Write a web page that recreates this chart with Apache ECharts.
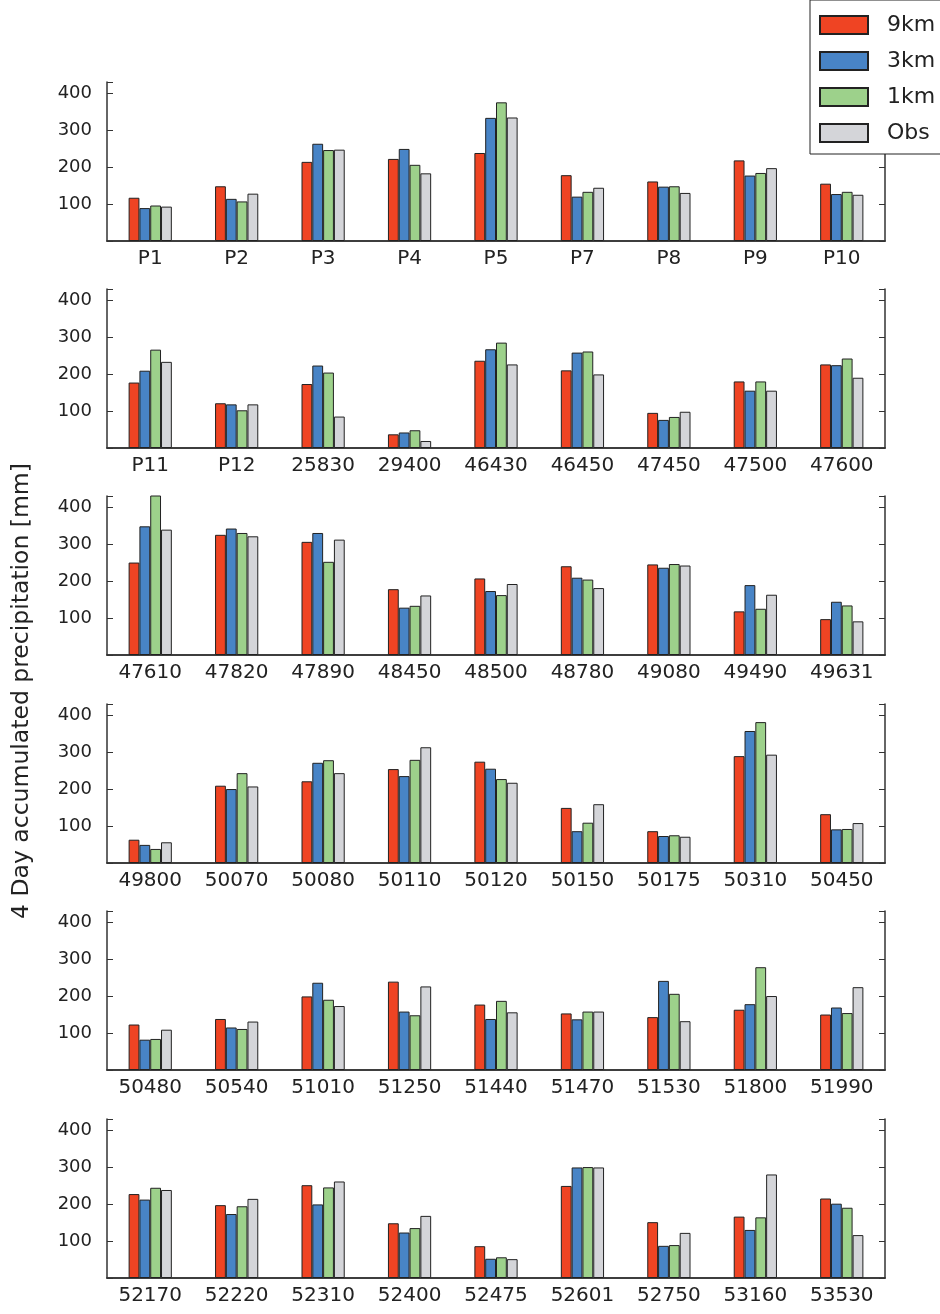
<!DOCTYPE html>
<html>
<head>
<meta charset="utf-8">
<script src="https://cdn.jsdelivr.net/npm/echarts@6/dist/echarts.min.js"></script>
<style>
  html, body { margin: 0; padding: 0; background: #fff; }
  #chart { width: 940px; height: 1314px; }
</style>
</head>
<body>
<div id="chart"></div>
<script>
// stations, 9 per panel
var stations = [
  'P1', 'P2', 'P3', 'P4', 'P5', 'P7', 'P8', 'P9', 'P10',
  'P11', 'P12', '25830', '29400', '46430', '46450', '47450', '47500', '47600',
  '47610', '47820', '47890', '48450', '48500', '48780', '49080', '49490', '49631',
  '49800', '50070', '50080', '50110', '50120', '50150', '50175', '50310', '50450',
  '50480', '50540', '51010', '51250', '51440', '51470', '51530', '51800', '51990',
  '52170', '52220', '52310', '52400', '52475', '52601', '52750', '53160', '53530'
];

var km9 = [
  117, 148, 214, 222, 238, 178, 161, 218, 155,
  177, 121, 173, 37, 236, 210, 95, 180, 226,
  250, 325, 306, 178, 207, 240, 245, 118, 97,
  63, 209, 221, 254, 274, 149, 86, 289, 132,
  123, 138, 199, 239, 177, 153, 143, 163, 150,
  227, 197, 251, 148, 86, 249, 151, 166, 215
];
var km3 = [
  89, 114, 263, 249, 333, 120, 147, 177, 127,
  209, 118, 223, 42, 267, 258, 76, 155, 224,
  348, 342, 330, 128, 173, 209, 236, 189, 144,
  49, 200, 271, 235, 255, 86, 73, 357, 91,
  82, 115, 236, 158, 138, 137, 241, 178, 169,
  212, 173, 199, 123, 52, 299, 87, 130, 201
];
var km1 = [
  96, 107, 246, 206, 375, 133, 148, 184, 133,
  266, 102, 204, 48, 285, 261, 84, 180, 242,
  445, 330, 252, 133, 162, 204, 246, 125, 134,
  38, 243, 278, 279, 227, 109, 75, 381, 92,
  84, 111, 190, 148, 187, 158, 206, 278, 154,
  244, 194, 245, 135, 56, 300, 89, 164, 190
];
var obs = [
  93, 128, 247, 183, 334, 144, 130, 197, 125,
  233, 118, 85, 19, 226, 199, 98, 155, 190,
  339, 321, 312, 161, 192, 181, 242, 163, 91,
  56, 207, 243, 313, 217, 159, 71, 293, 108,
  109, 131, 173, 226, 156, 158, 132, 200, 224,
  238, 214, 261, 168, 51, 299, 122, 280, 116
];

var seriesNames = ['9km', '3km', '1km', 'Obs'];
var seriesData = [km9, km3, km1, obs];
var colors = ['#ef4423', '#4884c6', '#9dd18b', '#d4d5d9'];

var panelTops = [82, 289, 496, 704, 911, 1119];
var panelHeight = 159;
var perPanel = 9;

var font = 'DejaVu Sans';
var axisColor = '#333';

var grids = [], xAxes = [], yAxes = [], series = [];

panelTops.forEach(function (top, p) {
  var cats = stations.slice(p * perPanel, (p + 1) * perPanel);
  grids.push({ left: 107, right: 55, top: top, height: panelHeight });

  // bottom axis with labels
  xAxes.push({
    type: 'category', gridIndex: p, position: 'bottom', data: cats,
    axisLine: { lineStyle: { color: axisColor, width: 1.5 } },
    axisTick: { inside: true, alignWithLabel: true, length: 6, lineStyle: { color: axisColor } },
    axisLabel: { color: '#222', fontSize: 20, fontFamily: font, margin: 8 }
  });
  // top mirror axis
  xAxes.push({
    type: 'category', gridIndex: p, position: 'top', data: cats,
    axisLine: { lineStyle: { color: axisColor, width: 1.5 } },
    axisTick: { inside: true, alignWithLabel: true, length: 6, lineStyle: { color: axisColor } },
    axisLabel: { show: false }
  });
  yAxes.push({
    type: 'value', gridIndex: p, position: 'left', min: 0, max: 430, interval: 100,
    splitLine: { show: false },
    axisLine: { show: true, lineStyle: { color: axisColor, width: 1.5 } },
    axisTick: { show: true, inside: true, length: 6, lineStyle: { color: axisColor } },
    axisLabel: {
      color: '#222', fontSize: 18, fontFamily: font, margin: 15,
      formatter: function (v) { return (v > 0 && v % 100 === 0) ? v : ''; }
    }
  });
  yAxes.push({
    type: 'value', gridIndex: p, position: 'right', min: 0, max: 430, interval: 100,
    splitLine: { show: false },
    axisLine: { show: true, lineStyle: { color: axisColor, width: 1.5 } },
    axisTick: { show: true, inside: true, length: 6, lineStyle: { color: axisColor } },
    axisLabel: { show: false }
  });

  seriesNames.forEach(function (name, s) {
    series.push({
      name: name,
      type: 'bar',
      xAxisIndex: p * 2,
      yAxisIndex: p * 2,
      barGap: '0%',
      barCategoryGap: '50%',
      clip: true,
      itemStyle: { color: colors[s], borderColor: '#222', borderWidth: 1 },
      data: seriesData[s].slice(p * perPanel, (p + 1) * perPanel)
    });
  });
});

var chart = echarts.init(document.getElementById('chart'));

var option = {
  animation: false,
  color: colors,
  grid: grids,
  xAxis: xAxes,
  yAxis: yAxes,
  legend: {
    data: seriesNames,
    icon: 'rect',
    orient: 'vertical',
    left: 810,
    top: 0,
    itemWidth: 48,
    itemHeight: 18,
    itemGap: 14,
    padding: [14, 40, 10, 9],
    backgroundColor: '#fff',
    borderColor: '#222',
    borderWidth: 1,
    z: 10,
    textStyle: { fontSize: 22, fontFamily: font, color: '#222', padding: [0, 0, 0, 14] }
  },
  graphic: [{
    type: 'text',
    x: 22,
    y: 691,
    rotation: Math.PI / 2,
    style: {
      text: '4 Day accumulated precipitation [mm]',
      font: '23.5px "DejaVu Sans"',
      fill: '#222',
      align: 'center',
      verticalAlign: 'middle'
    }
  }],
  series: series
};

chart.setOption(option);
</script>
</body>
</html>
